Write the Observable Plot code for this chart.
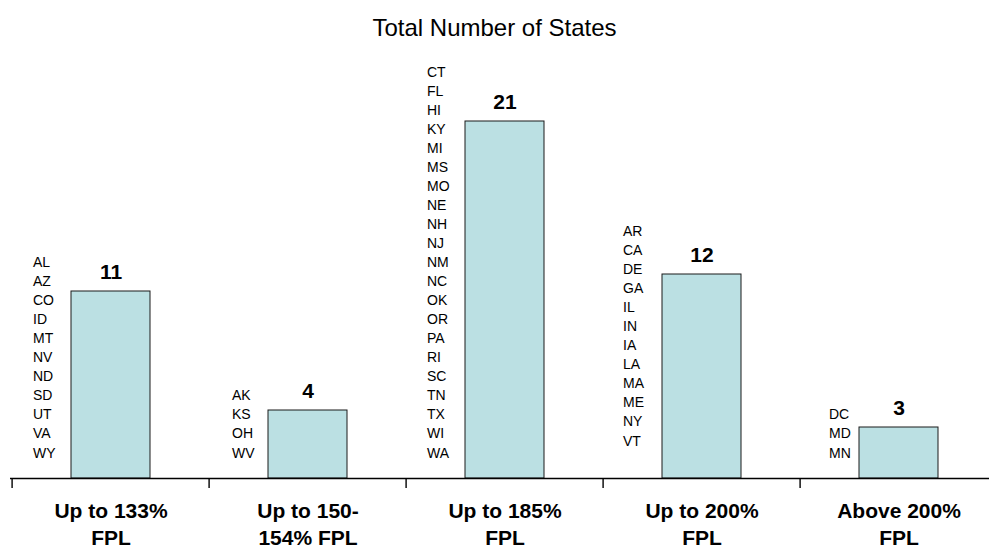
<!DOCTYPE html>
<html>
<head>
<meta charset="utf-8">
<script src="https://cdn.jsdelivr.net/npm/d3@7"></script>
<script src="https://cdn.jsdelivr.net/npm/@observablehq/plot@0.6"></script>
<style>
  body { margin: 0; background: #fff; font-family: "Liberation Sans", Arial, sans-serif; }
  #title { width: 989px; height: 40px; box-sizing: border-box; padding-top: 14px; text-align: center;
           font-size: 24px; line-height: 28px; color: #000; overflow: visible; }
  #chart svg { overflow: visible; display: block; }
</style>
</head>
<body>
<div id="title"></div>
<div id="chart"></div>
<script>
const title = "Total Number of States";
const categories = ["Up to 133%\nFPL", "Up to 150-\n154% FPL", "Up to 185%\nFPL", "Up to 200%\nFPL", "Above 200%\nFPL"];
const counts = [11, 4, 21, 12, 3];
const statesUpTo133 = ["AL", "AZ", "CO", "ID", "MT", "NV", "ND", "SD", "UT", "VA", "WY"];
const statesUpTo150 = ["AK", "KS", "OH", "WV"];
const statesUpTo185 = ["CT", "FL", "HI", "KY", "MI", "MS", "MO", "NE", "NH", "NJ", "NM", "NC", "OK", "OR", "PA", "RI", "SC", "TN", "TX", "WI", "WA"];
const statesUpTo200 = ["AR", "CA", "DE", "GA", "IL", "IN", "IA", "LA", "MA", "ME", "NY", "VT"];
const statesAbove200 = ["DC", "MD", "MN"];

const stateGroups = [statesUpTo133, statesUpTo150, statesUpTo185, statesUpTo200, statesAbove200];
const data = categories.map((c, i) => ({category: c, count: counts[i], states: stateGroups[i].join("\n")}));

document.getElementById("title").textContent = title;

// layout
const W = 989, H = 508;
const xRange = [10, 999];
const step = (xRange[1] - xRange[0]) / categories.length;
const labelDx = [-78, -76, -78, -79, -70];
const labelDy = [-21, -21, -21, -33, -21];
const font = "'Liberation Sans', Arial, sans-serif";

const stateMarks = data.map((d, i) => Plot.text([d], {
  x: "category", frameAnchor: "bottom", text: "states",
  textAnchor: "start", lineAnchor: "bottom",
  dx: labelDx[i], dy: labelDy[i], fontSize: 14, lineHeight: 1.36, fill: "#000"
}));

const chart = Plot.plot({
  width: W, height: H,
  marginTop: 13, marginBottom: 70, marginLeft: 10, marginRight: 0,
  style: {fontFamily: font, background: "white", color: "#000", overflow: "visible"},
  x: {domain: categories, range: xRange, paddingInner: 0.6, paddingOuter: 0.3, label: null},
  y: {domain: [0, 25], axis: null, label: null},
  marks: [
    Plot.barY(data, {x: "category", y: "count", fill: "#bbe0e3", stroke: "#1a1a1a", strokeWidth: 1}),
    Plot.ruleY([0], {stroke: "#000", strokeWidth: 1.4}),
    Plot.axisX({tickSize: 10, tickFormat: () => "", dx: -step / 2, stroke: "#000", strokeWidth: 1.4, label: null}),
    Plot.axisX({tickSize: 0, tickPadding: 21, fontSize: 21, fontWeight: "bold", lineHeight: 1.26, label: null, fill: "#000"}),
    Plot.text(data, {x: "category", y: "count", text: d => String(d.count), dy: -12.5, lineAnchor: "bottom",
                     fontSize: 21, fontWeight: "bold", fill: "#000"}),
    ...stateMarks
  ]
});
document.getElementById("chart").appendChild(chart);
</script>
</body>
</html>
